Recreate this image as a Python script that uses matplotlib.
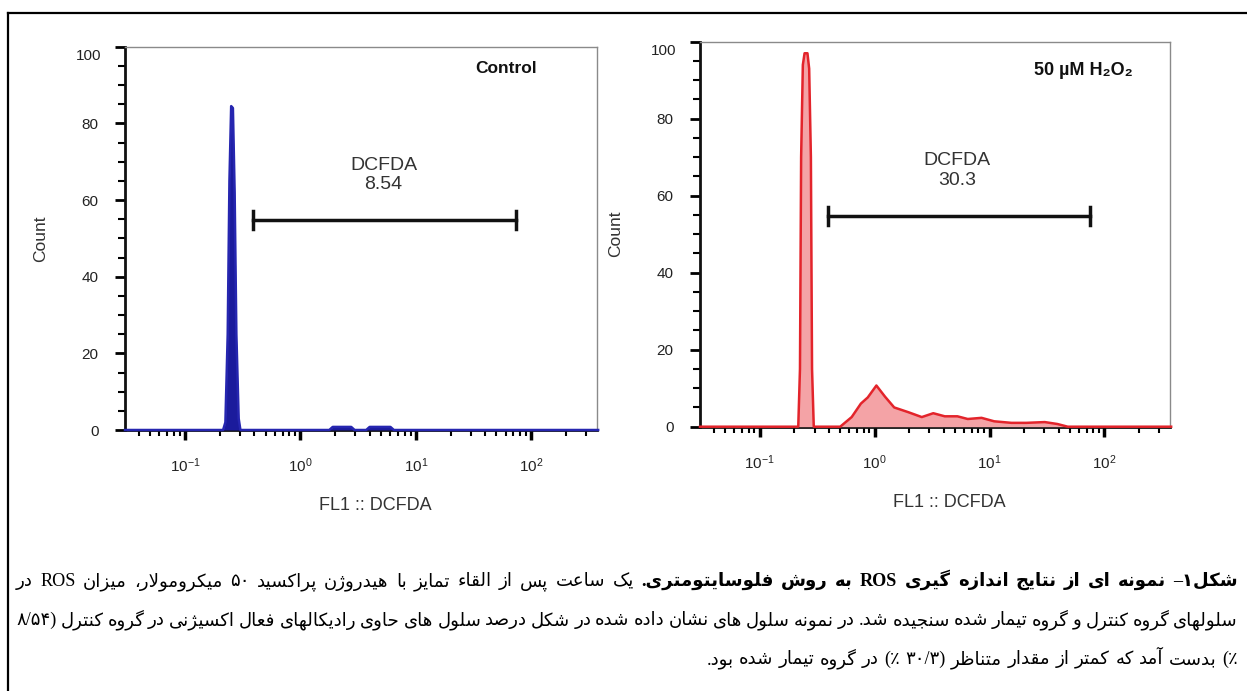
import matplotlib
matplotlib.use('Agg')
import matplotlib.pyplot as plt
import numpy as np
from matplotlib import font_manager, ft2font
from matplotlib.lines import Line2D
from matplotlib.ticker import LogLocator, MultipleLocator

plt.rcParams['font.family'] = ['Liberation Sans', 'DejaVu Sans']
plt.rcParams['mathtext.default'] = 'regular'

W, H = 1247, 691

# ---- data (x as log10 of FL1 intensity) ----
ctrl_logx = [-1.52, -0.67, -0.65, -0.63, -0.615, -0.60, -0.585, -0.57, -0.555, -0.535, -0.52,
             0.25, 0.28, 0.44, 0.47, 0.57, 0.60, 0.78, 0.81, 2.58]
ctrl_count = [0, 0, 2, 25, 65, 84.5, 84, 62, 25, 3, 0,
              0, 0.8, 0.8, 0, 0, 0.8, 0.8, 0, 0]

h2o2_logx = [-1.52, -0.665, -0.65, -0.64, -0.625, -0.61, -0.585, -0.57, -0.555, -0.545, -0.53,
             -0.30, -0.20, -0.12, -0.06, 0.015, 0.09, 0.17, 0.29, 0.41, 0.51, 0.61, 0.72,
             0.81, 0.93, 1.04, 1.19, 1.32, 1.48, 1.59, 1.68, 2.58]
h2o2_count = [0, 0, 15, 70, 94, 97, 97, 93, 70, 15, 0,
              0, 2.5, 6.0, 7.6, 10.7, 7.8, 5.0, 3.8, 2.5, 3.5, 2.7, 2.7,
              2.0, 2.3, 1.4, 1.0, 1.0, 1.2, 0.7, 0, 0]

gate_logx = [-0.41, 1.87]
gate_y = 54.8
gate_values = ['8.54', '30.3']
panel_titles = ['Control', '50 µM H₂O₂']
y_ticks = [0, 20, 40, 60, 80, 100]
x_lim_log = [-1.52, 2.57]

caption_bold = "شکل۱– نمونه ای از نتایج اندازه گیری ROS به روش فلوسایتومتری."
caption_l1 = "یک ساعت پس از القاء تمایز با هیدروژن پراکسید ۵۰ میکرومولار، میزان ROS در"
caption_l2 = ("سلولهای گروه کنترل و گروه تیمار شده سنجیده شد. در نمونه سلول های نشان داده شده "
              "در شکل درصد سلول های حاوی رادیکالهای فعال اکسیژنی در گروه کنترل (۸/۵۴")
caption_l3 = "٪) بدست آمد که کمتر از مقدار متناظر (۳۰/۳ ٪) در گروه تیمار شده بود."

# ---- tiny Persian shaper (matplotlib does no Arabic shaping itself) ----
FORMS = {
    'ء': (0xFE80, None, None, None),
    'آ': (0xFE81, 0xFE82, None, None),
    'ا': (0xFE8D, 0xFE8E, None, None),
    'ب': (0xFE8F, 0xFE90, 0xFE91, 0xFE92),
    'ت': (0xFE95, 0xFE96, 0xFE97, 0xFE98),
    'ج': (0xFE9D, 0xFE9E, 0xFE9F, 0xFEA0),
    'ح': (0xFEA1, 0xFEA2, 0xFEA3, 0xFEA4),
    'د': (0xFEA9, 0xFEAA, None, None),
    'ر': (0xFEAD, 0xFEAE, None, None),
    'ز': (0xFEAF, 0xFEB0, None, None),
    'س': (0xFEB1, 0xFEB2, 0xFEB3, 0xFEB4),
    'ش': (0xFEB5, 0xFEB6, 0xFEB7, 0xFEB8),
    'ص': (0xFEB9, 0xFEBA, 0xFEBB, 0xFEBC),
    'ظ': (0xFEC5, 0xFEC6, 0xFEC7, 0xFEC8),
    'ع': (0xFEC9, 0xFECA, 0xFECB, 0xFECC),
    'ف': (0xFED1, 0xFED2, 0xFED3, 0xFED4),
    'ق': (0xFED5, 0xFED6, 0xFED7, 0xFED8),
    'ل': (0xFEDD, 0xFEDE, 0xFEDF, 0xFEE0),
    'م': (0xFEE1, 0xFEE2, 0xFEE3, 0xFEE4),
    'ن': (0xFEE5, 0xFEE6, 0xFEE7, 0xFEE8),
    'ه': (0xFEE9, 0xFEEA, 0xFEEB, 0xFEEC),
    'و': (0xFEED, 0xFEEE, None, None),
    'پ': (0xFB56, 0xFB57, 0xFB58, 0xFB59),
    'ژ': (0xFB8A, 0xFB8B, None, None),
    'ک': (0xFB8E, 0xFB8F, 0xFB90, 0xFB91),
    'گ': (0xFB92, 0xFB93, 0xFB94, 0xFB95),
    'ی': (0xFBFC, 0xFBFD, 0xFBFE, 0xFBFF),
}
LAM_ALEF = {'ا': (0xFEFB, 0xFEFC), 'آ': (0xFEF5, 0xFEF6)}
MIRROR = {'(': ')', ')': '('}

dejavu = ft2font.FT2Font(font_manager.findfont(font_manager.FontProperties(family='DejaVu Sans')))


def glyph(cp, fallback):
    return chr(cp) if dejavu.get_char_index(cp) else fallback


def dual(ch):
    return ch in FORMS and FORMS[ch][2] is not None


def joins_prev(ch):
    return ch in FORMS and FORMS[ch][1] is not None


def shape(word):
    out = []
    i = 0
    while i < len(word):
        ch = word[i]
        if ch not in FORMS:
            if ch == '٪' and not dejavu.get_char_index(ord(ch)):
                ch = '%'
            out.append(ch)
            i += 1
            continue
        prev = word[i - 1] if i > 0 else ''
        pc = dual(prev) and joins_prev(ch)
        if ch == 'ل' and i + 1 < len(word) and word[i + 1] in LAM_ALEF:
            iso, fin = LAM_ALEF[word[i + 1]]
            out.append(glyph(fin if pc else iso, 'ل' + word[i + 1]))
            i += 2
            continue
        nxt = word[i + 1] if i + 1 < len(word) else ''
        nc = dual(ch) and joins_prev(nxt)
        iso, fin, ini, med = FORMS[ch]
        cp = med if (pc and nc) else fin if pc else ini if nc else iso
        out.append(glyph(cp, ch))
        i += 1
    return ''.join(out)


def is_ltr(s, k):
    c = s[k]
    if (c.isascii() and c.isalnum()) or c.isdigit():
        return True
    if c in '/.' and 0 < k < len(s) - 1 and s[k - 1].isdigit() and s[k + 1].isdigit():
        return True
    return False


def visual(word):
    s = shape(word)
    runs = []
    for k, c in enumerate(s):
        l = is_ltr(s, k)
        if runs and runs[-1][0] == l:
            runs[-1][1] += c
        else:
            runs.append([l, c])
    parts = []
    for l, txt in reversed(runs):
        parts.append(txt if l else ''.join(MIRROR.get(c, c) for c in reversed(txt)))
    return ''.join(parts)


fig = plt.figure(figsize=(W / 100, H / 100), dpi=100)
fig.add_artist(Line2D([8 / W, 8 / W], [0, 1 - 13 / H], color='black', lw=1.6))
fig.add_artist(Line2D([8 / W, 1], [1 - 13 / H, 1 - 13 / H], color='black', lw=1.6))


def px_axes(l, t, r, b):
    return [l / W, 1 - b / H, (r - l) / W, (b - t) / H]


def draw_panel(ax, logx, counts, line_c, fill_c, value, title, title_logx, title_y, title_size):
    x = np.power(10.0, logx)
    ax.fill_between(x, counts, 0, color=fill_c, lw=0, zorder=3)
    ax.plot(x, counts, color=line_c, lw=1.8, zorder=6, clip_on=False)
    ax.set_xscale('log')
    ax.set_xlim(10 ** x_lim_log[0], 10 ** x_lim_log[1])
    ax.set_ylim(0, 100)

    for side in ['top', 'right']:
        ax.spines[side].set_color('#8a8a8a')
        ax.spines[side].set_linewidth(1.0)
    for side in ['left', 'bottom']:
        ax.spines[side].set_color('#111111')
        ax.spines[side].set_linewidth(2.0)

    ax.set_yticks(y_ticks)
    ax.set_yticklabels([str(v) for v in y_ticks[:-1]] + [''])
    ax.annotate(str(y_ticks[-1]), xy=(0, y_ticks[-1]), xycoords=('axes fraction', 'data'),
                xytext=(-17, -7), textcoords='offset points', ha='right', va='center',
                fontsize=11, color='#222222')
    ax.yaxis.set_minor_locator(MultipleLocator(5))
    ax.xaxis.set_major_locator(LogLocator(base=10))
    ax.xaxis.set_minor_locator(LogLocator(base=10, subs=np.arange(2, 10)))
    ax.tick_params(axis='y', which='major', direction='out', length=7, width=2,
                   labelsize=11, pad=12, labelcolor='#222222')
    ax.tick_params(axis='y', which='minor', direction='out', length=5, width=1.5)
    ax.tick_params(axis='x', which='major', direction='out', length=7, width=2.5,
                   labelsize=11, pad=12, labelcolor='#222222')
    ax.tick_params(axis='x', which='minor', direction='out', length=4, width=1.5)

    ax.set_ylabel('Count', fontsize=12.5, color='#333333')
    ax.yaxis.set_label_coords(-0.163, 0.5)
    ax.set_xlabel('FL1 :: DCFDA', fontsize=13, color='#333333')
    ax.xaxis.set_label_coords(0.53, -0.175)

    gx = np.power(10.0, gate_logx)
    ax.plot(gx, [gate_y, gate_y], color='#111111', lw=2.5, zorder=7)
    for g in gx:
        ax.plot([g, g], [gate_y - 2.3, gate_y + 2.3], color='#111111', lw=2.5, zorder=7)
    ax.text(10 ** 0.72, 66.5, 'DCFDA\n' + value, ha='center', va='center', fontsize=14,
            color='#333333', linespacing=1.2)
    ax.text(10 ** title_logx, title_y, title, ha='center', va='center', fontsize=title_size,
            weight='bold', color='#111111')


ax1 = fig.add_axes(px_axes(125, 46.7, 597, 430))
draw_panel(ax1, ctrl_logx, ctrl_count, '#2626b0', '#1b1b9c', gate_values[0],
           panel_titles[0], 1.78, 94.3, 12.5)
ax2 = fig.add_axes(px_axes(700, 41.7, 1170, 426.7))
draw_panel(ax2, h2o2_logx, h2o2_count, '#e3242b', '#f4a3a6', gate_values[1],
           panel_titles[1], 1.82, 92.6, 13)

# ---- Persian caption, laid out right-to-left word by word ----
CAP_FONTS = ['Liberation Serif', 'DejaVu Sans']
renderer = fig.canvas.get_renderer()
RIGHT, LEFT = 1238, 16

line1 = [(w, True) for w in caption_bold.split()] + [(w, False) for w in caption_l1.split()]
line2 = [(w, False) for w in caption_l2.split()]
line3 = [(w, False) for w in caption_l3.split()]


def make_words(words, y_px, size):
    texts, widths = [], []
    for w, bold in words:
        t = fig.text(0, 1 - y_px / H, visual(w), fontsize=size, family=CAP_FONTS,
                     weight='bold' if bold else 'normal', ha='left', va='baseline')
        texts.append(t)
        widths.append(t.get_window_extent(renderer=renderer).width)
    return texts, widths


# pick one size so the longest justified line still keeps ~4.5 px between words
cap_size = 14.0
for words in (line1, line2):
    tt, ww = make_words(words, 0, cap_size)
    room = RIGHT - LEFT - 4.5 * (len(words) - 1)
    if sum(ww) > room:
        cap_size = min(cap_size, 14.0 * room / sum(ww))
    for t in tt:
        t.remove()


def rtl_line(words, y_px, justify):
    texts, widths = make_words(words, y_px, cap_size)
    gap = 0.3 * cap_size * 100 / 72
    if justify:
        gap = (RIGHT - LEFT - sum(widths)) / (len(words) - 1)
    x = RIGHT
    for t, w in zip(texts, widths):
        t.set_x((x - w) / W)
        x -= w + gap


rtl_line(line1, 586, True)
rtl_line(line2, 625, True)
rtl_line(line3, 664, False)

fig.savefig('out.png', dpi=100)
